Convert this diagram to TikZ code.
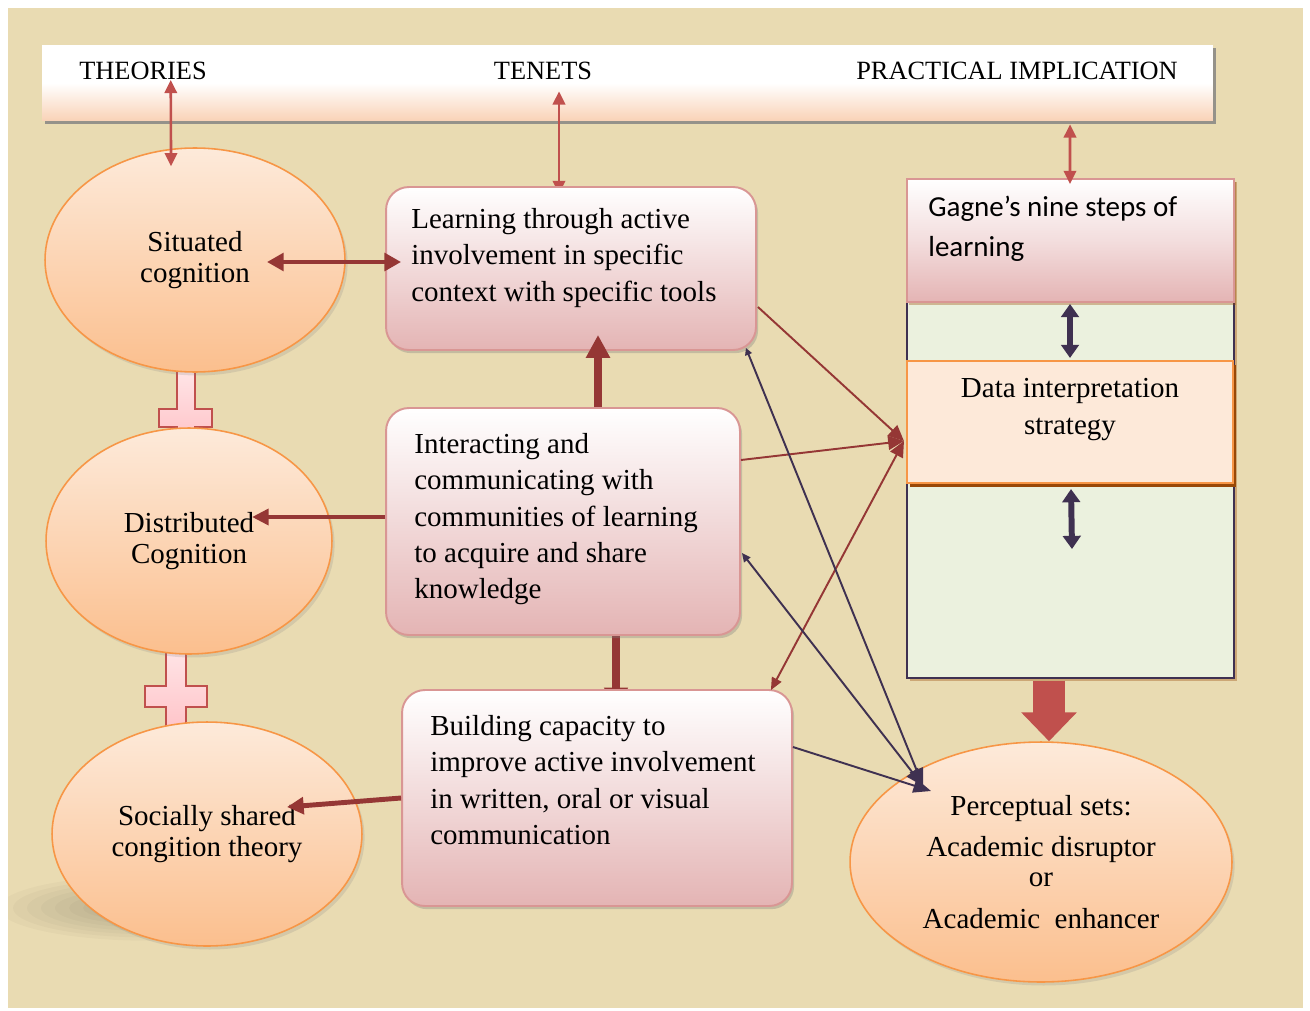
\documentclass[tikz,border=0pt]{standalone}
\usepackage{fontspec}
\setmainfont{Liberation Serif}
\newfontfamily\gagnefont{Carlito}
\usetikzlibrary{arrows.meta,calc,shadows,shapes.geometric}

\pgfdeclarelayer{paperlayer}
\pgfdeclarelayer{underlayer}
\pgfsetlayers{paperlayer,underlayer,main}

\definecolor{paper}{RGB}{233,219,178}
\definecolor{linkred}{HTML}{953735}
\definecolor{accred}{HTML}{C0504D}
\definecolor{plum}{HTML}{3F3151}
\definecolor{orangeline}{HTML}{F79646}
\definecolor{elltop}{HTML}{FDEADA}
\definecolor{ellbot}{HTML}{FBBF8E}
\definecolor{pinkline}{HTML}{D99694}
\definecolor{pinkbot}{HTML}{E4B4B4}
\definecolor{greenfill}{HTML}{EBF1DE}
\definecolor{datafill}{HTML}{FDE9D9}
\definecolor{brownshade}{HTML}{984807}
\definecolor{peach}{HTML}{F9D2B6}
\definecolor{crosstop}{HTML}{FFE6E8}
\definecolor{crossfill}{HTML}{FFBFC4}

\tikzset{
  theory/.style={ellipse, draw=orangeline, line width=0.9pt, top color=elltop, bottom color=ellbot,
    align=center, inner sep=0pt, font=\fontsize{16.5}{17.5}\selectfont,
    drop shadow={shadow xshift=1.5pt, shadow yshift=-2pt, opacity=0.2}},
  tenet/.style={rectangle, rounded corners=13pt, draw=pinkline, line width=1.1pt, top color=white,
    bottom color=pinkbot, drop shadow={shadow xshift=1.2pt, shadow yshift=-1.8pt, opacity=0.35}},
  tenettext/.style={anchor=north west, align=left, inner sep=0pt, font=\fontsize{16.5}{20.7}\selectfont},
  headtext/.style={inner sep=0pt, font=\fontsize{15}{18}\selectfont},
  plusbar/.style={draw=accred, line width=0.9pt, top color=crosstop, bottom color=crossfill},
  fatlink/.style={linkred, line width=2.8pt},
  fatterlink/.style={linkred, line width=4.5pt},
  redlink/.style={linkred, line width=1.1pt},
  plumlink/.style={plum, line width=1.1pt},
  plumfat/.style={plum, line width=3.4pt, {Triangle[length=7.5pt,width=10pt]}-{Triangle[length=7.5pt,width=10pt]}},
  headlink/.style={accred, line width=1.5pt, {Triangle[length=7.5pt,width=7pt]}-{Triangle[length=7.5pt,width=7pt]}},
}

\begin{document}
\begin{tikzpicture}[x=0.02cm, y=-0.02cm]
  \useasboundingbox (0,0) rectangle (1310,1010);
  \begin{pgfonlayer}{paperlayer}
    \fill[paper] (8,8) rectangle (1303,1008);
    \node[rectangle, minimum width=23.42cm, minimum height=1.52cm, top color=white, bottom color=peach,
      middle color=white, drop shadow={shadow xshift=1.5pt, shadow yshift=-1.5pt, fill=gray, opacity=0.8}]
      (header) at (627.5,83) {};
  \end{pgfonlayer}

  % header titles
  \node[headtext] (theories) at (143,71) {THEORIES};
  \node[headtext] (tenets) at (543,71) {TENETS};
  \node[headtext] (practical) at (1017,71) {PRACTICAL IMPLICATION};

  % plus signs between the theories
  \draw[plusbar] (177,368) -- (195,368) -- (195,409) -- (212,409) -- (212,427) -- (195,427) -- (195,450)
    -- (177,450) -- (177,427) -- (159,427) -- (159,409) -- (177,409) -- cycle;
  \draw[plusbar] (166,645) -- (186,645) -- (186,686) -- (207,686) -- (207,707) -- (186,707) -- (186,742)
    -- (166,742) -- (166,707) -- (145,707) -- (145,686) -- (166,686) -- cycle;

  % soft shadow under the last theory
  \begin{scope}
    \clip (8,8) rectangle (1303,1008);
    \foreach \k [evaluate=\k as \rx using 3.3-0.28*\k, evaluate=\k as \ry using 0.72-0.065*\k] in {1,...,9}
      \fill[black, opacity=0.022] (150,908) ellipse [x radius=\rx cm, y radius=\ry cm];
  \end{scope}

  \node[theory, minimum width=6cm, minimum height=4.48cm] (situated) at (195,260) {Situated\\cognition};
  \node[theory, minimum width=5.72cm, minimum height=4.52cm] (distrib) at (189,541) {Distributed\\Cognition};
  \node[theory, minimum width=6.2cm, minimum height=4.48cm] (social) at (207,834) {Socially shared\\congition theory};

  % tenets
  \node[tenet, minimum width=7.4cm, minimum height=3.26cm] (learn) at (571,268.5) {};
  \node[tenettext] (learntext) at (411,208) {Learning through active\\involvement in specific\\context with specific tools};
  \node[tenet, minimum width=7.08cm, minimum height=4.54cm] (interact) at (563,521.5) {};
  \node[tenettext] (interacttext) at (414,433) {Interacting and\\communicating with\\communities of learning\\to acquire and share\\knowledge};
  \node[tenet, minimum width=7.8cm, minimum height=4.32cm] (build) at (597,798) {};
  \node[tenettext] (buildtext) at (430,715) {Building capacity to\\improve active involvement\\in written, oral or visual\\communication};

  % practical implication column
  \node[rectangle, draw=plum, line width=0.8pt, fill=greenfill, minimum width=6.54cm, minimum height=9.98cm,
    drop shadow={shadow xshift=1.5pt, shadow yshift=-1.5pt, fill=brownshade, opacity=0.35}] (panel) at (1070.5,428.5) {};
  \node[rectangle, draw=pinkline, line width=1.1pt, top color=white, bottom color=pinkbot, middle color=white!55!pinkbot,
    minimum width=6.54cm, minimum height=2.46cm,
    drop shadow={shadow xshift=1.2pt, shadow yshift=-1.8pt, fill=brownshade, opacity=0.35}] (gagne) at (1070.5,240.5) {};
  \node[anchor=north west, align=left, inner sep=0pt, font=\gagnefont\fontsize{16.5}{22.7}\selectfont]
    (gagnetext) at (928,196) {Gagne’s nine steps of\\learning};
  \node[rectangle, draw=orangeline, line width=1.2pt, fill=datafill, minimum width=6.52cm, minimum height=2.44cm,
    drop shadow={shadow xshift=1.5pt, shadow yshift=-2.5pt, fill=brownshade, opacity=1}] (data) at (1070,422) {};
  \node[anchor=north, align=center, inner sep=0pt, font=\fontsize{16.5}{21}\selectfont]
    (datatext) at (1070,378) {Data interpretation\\strategy};
  \coordinate (panelmid) at ($(data.south)+(2,65)$);

  \node[theory, minimum width=7.64cm, minimum height=4.8cm, font=\fontsize{16.5}{17}\selectfont] (percept) at (1041,862)
    {Perceptual sets:\\[6.8pt]Academic disruptor\\or\\[6.8pt]Academic\ \ enhancer};

  % links hidden partly under the boxes
  \begin{pgfonlayer}{underlayer}
    \draw[headlink] ($(learn.north)+(-12,8)$) -- ($(header.south)+(-68.5,-30)$);
    \draw[fatterlink, -{Triangle[length=11pt,width=13pt]}] ($(interact.south)+(53,0)$) -- ($(build.north)+(19,18)$);
  \end{pgfonlayer}

  % header links
  \draw[headlink] ($(header.west)+(129,-3)$) -- ($(situated.north)+(-24,19)$);
  \draw[headlink] ($(header.south)+(442.5,3)$) -- ($(gagne.north)+(-0.5,6)$);

  % theory - tenet links
  \draw[fatlink, {Triangle[length=9.5pt,width=10pt]}-{Triangle[length=9.5pt,width=10pt]}]
    ($(situated.center)+(72,2)$) -- ($(learn.west)+(16,-6.5)$);
  \draw[fatterlink, -{Triangle[length=13pt,width=13pt]}] ($(interact.north)+(35,0)$) -- ($(learn.south)+(27,-16)$);
  \draw[fatlink, -{Triangle[length=9.5pt,width=9pt]}] ($(interact.west)+(0,-4.5)$) -- ($(distrib.center)+(63,-24)$);
  \draw[fatlink, -{Triangle[length=9.5pt,width=9.5pt]}] (build.west) -- ($(social.center)+(80,-27)$);

  % column links
  \draw[plumfat] ($(gagne.south)+(-0.5,1)$) -- ($(data.north)+(0,-2)$);
  \draw[plumfat] ($(data.south)+(1,5)$) -- (panelmid);
  \draw[accred, line width=18.7pt, -{Triangle[length=16.4pt,width=30.6pt]}] ($(panel.south)+(-21.5,2)$) -- ($(percept.north)+(8,0)$);

  % cross links
  \coordinate (datain) at ($(data.west)+(-2,19)$);
  \coordinate (perceptin) at ($(percept.center)+(-118,-76)$);
  \draw[redlink, -{Triangle[length=9pt,width=8pt]}] ($(learn.east)+(1,38.5)$) -- (datain);
  \draw[redlink, -{Triangle[length=9pt,width=8pt]}] ($(interact.east)+(0,-61.5)$) -- (datain);
  \draw[redlink, {Triangle[length=9pt,width=8pt]}-{Triangle[length=7pt,width=6pt]}] (datain) -- ($(build.north east)+(-22,1)$);
  \draw[plumlink, {Triangle[length=4pt,width=4pt]}-{Triangle[length=10pt,width=8pt]}] ($(learn.south east)+(-11,-3)$) -- (perceptin);
  \draw[plumlink, {Triangle[length=5pt,width=4.5pt]}-{Triangle[length=10pt,width=8pt]}] ($(interact.east)+(1,31.5)$) -- (perceptin);
  \draw[plumlink, -{Triangle[length=10pt,width=8pt]}] ($(build.east)+(0,-51)$) -- ($(percept.center)+(-110,-71)$);
\end{tikzpicture}
\end{document}
